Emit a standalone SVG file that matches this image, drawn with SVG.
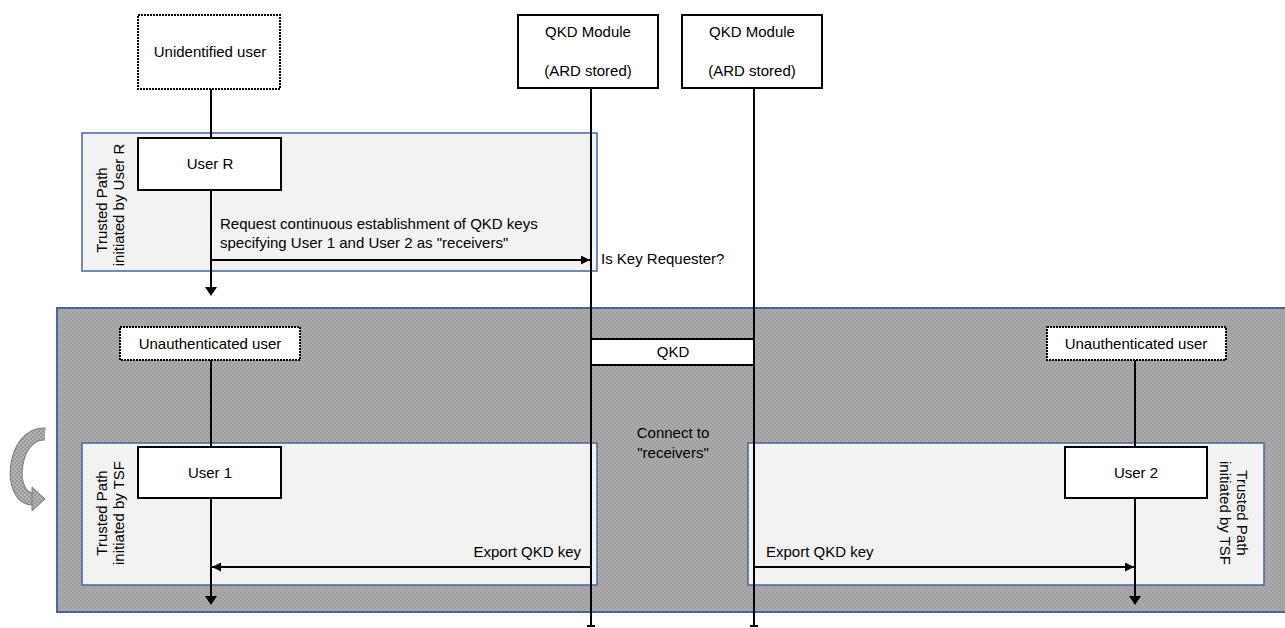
<svg xmlns="http://www.w3.org/2000/svg" width="1285" height="628" viewBox="0 0 1285 628">
<style>
text{font-family:"Liberation Sans",Arial,sans-serif;font-size:15px;fill:#000}
.c{text-anchor:middle}
.e{text-anchor:end}
.box{fill:#fff;stroke:#000;stroke-width:2}
.dot{fill:#fff;stroke:#000;stroke-width:2;stroke-dasharray:2 1}
.tp{fill:#f2f2f2;stroke:#44679f;stroke-width:1.5}
.ll{stroke:#000;stroke-width:2;fill:none}
.msg{stroke:#000;stroke-width:2;fill:none;marker-end:url(#ah)}
</style>
<defs>
<pattern id="hatch" width="4" height="4" patternUnits="userSpaceOnUse">
<rect width="4" height="4" fill="#aaaaaa"/>
<rect width="2" height="2" fill="#a0a0a0"/>
<rect x="2" y="2" width="2" height="2" fill="#a0a0a0"/>
</pattern>
<pattern id="hatch2" width="4" height="4" patternUnits="userSpaceOnUse">
<rect width="4" height="4" fill="#b3b3b3"/>
<rect width="2" height="2" fill="#9a9a9a"/>
<rect x="2" y="2" width="2" height="2" fill="#9a9a9a"/>
</pattern>
<marker id="ah" viewBox="0 0 10 10" refX="10" refY="5" markerWidth="10" markerHeight="9" markerUnits="userSpaceOnUse" orient="auto">
<path d="M0,0 L10,5 L0,10 z" fill="#000"/>
</marker>
</defs>

<g id="regions">
<rect id="auth-region" x="57" y="308" width="1232" height="304" fill="url(#hatch)" stroke="#44679f" stroke-width="2"/>
<g id="tp-userR">
<rect class="tp" x="82" y="133" width="515" height="138"/>
<text transform="translate(107,210) rotate(-90)" class="c">Trusted Path</text>
<text transform="translate(124,205) rotate(-90)" class="c">initiated by User R</text>
</g>
<g id="tp-user1">
<rect class="tp" x="82" y="443" width="515" height="142"/>
<text transform="translate(107,513) rotate(-90)" class="c">Trusted Path</text>
<text transform="translate(124,513) rotate(-90)" class="c">initiated by TSF</text>
</g>
<g id="tp-user2">
<rect class="tp" x="748" y="443" width="516" height="142"/>
<text transform="translate(1237,513) rotate(90)" class="c">Trusted Path</text>
<text transform="translate(1220,513) rotate(90)" class="c">initiated by TSF</text>
</g>
<g id="loop-arrow">
<path d="M45,434 C12,432 6,500 34,499" fill="none" stroke="#7a7a7a" stroke-width="13"/>
<path d="M45,434 C12,432 6,500 34,499" fill="none" stroke="url(#hatch2)" stroke-width="11"/>
<polygon points="32,487 45,499 32,511" fill="url(#hatch2)" stroke="#7a7a7a" stroke-width="1"/>
</g>
</g>

<g id="connectors">
<line class="ll" x1="211" y1="89" x2="211" y2="287"/>
<path d="M205,287 L211,296 L217,287 z" fill="#000"/>
<line class="ll" x1="591" y1="88" x2="591" y2="626"/>
<line class="ll" x1="587" y1="626" x2="595" y2="626"/>
<line class="ll" x1="754" y1="88" x2="754" y2="626"/>
<line class="ll" x1="750" y1="626" x2="758" y2="626"/>
<line class="ll" x1="211" y1="360" x2="211" y2="596"/>
<path d="M205,596 L211,605 L217,596 z" fill="#000"/>
<line class="ll" x1="1135" y1="360" x2="1135" y2="596"/>
<path d="M1129,596 L1135,605 L1141,596 z" fill="#000"/>
<line class="msg" x1="211" y1="260" x2="590" y2="260"/>
<text x="220" y="229">Request continuous establishment of QKD keys</text>
<text x="220" y="248">specifying User 1 and User 2 as "receivers"</text>
<text x="601" y="264">Is Key Requester?</text>
<line class="msg" x1="591" y1="567" x2="212" y2="567"/>
<text class="e" x="581" y="557">Export QKD key</text>
<line class="msg" x1="754" y1="567" x2="1134" y2="567"/>
<text x="766" y="557">Export QKD key</text>
<text class="c" x="673" y="438">Connect to</text>
<text class="c" x="673" y="458">"receivers"</text>
</g>

<g id="unidentified-user">
<rect class="dot" x="138" y="15" width="142" height="74"/>
<text class="c" x="210" y="57">Unidentified user</text>
</g>
<g id="qkd-module-1">
<rect class="box" x="518" y="15" width="140" height="73"/>
<text class="c" x="588" y="37">QKD Module</text>
<text class="c" x="588" y="76">(ARD stored)</text>
</g>
<g id="qkd-module-2">
<rect class="box" x="682" y="15" width="140" height="73"/>
<text class="c" x="752" y="37">QKD Module</text>
<text class="c" x="752" y="76">(ARD stored)</text>
</g>
<g id="user-r">
<rect class="box" x="138" y="138" width="143" height="52"/>
<text class="c" x="210" y="169">User R</text>
</g>
<g id="unauth-user-1">
<rect class="dot" x="120" y="327" width="180" height="33"/>
<text class="c" x="210" y="349">Unauthenticated user</text>
</g>
<g id="unauth-user-2">
<rect class="dot" x="1047" y="327" width="179" height="33"/>
<text class="c" x="1136" y="349">Unauthenticated user</text>
</g>
<g id="qkd">
<rect class="box" x="591" y="339" width="163" height="26"/>
<text class="c" x="673" y="357">QKD</text>
</g>
<g id="user-1">
<rect class="box" x="138" y="447" width="143" height="51"/>
<text class="c" x="210" y="478">User 1</text>
</g>
<g id="user-2">
<rect class="box" x="1065" y="447" width="142" height="51"/>
<text class="c" x="1136" y="478">User 2</text>
</g>
</svg>
